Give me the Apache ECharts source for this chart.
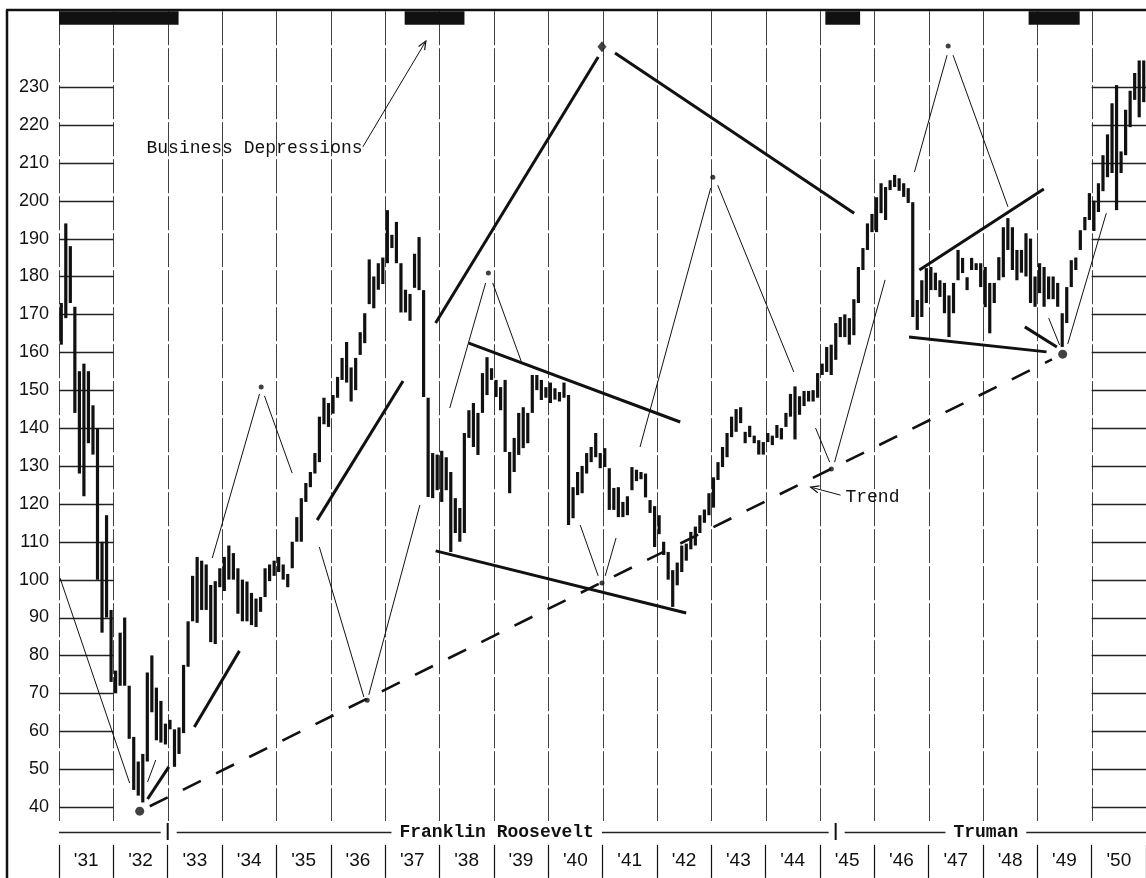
<!DOCTYPE html>
<html><head><meta charset="utf-8">
<script src="https://cdn.jsdelivr.net/npm/echarts@6/dist/echarts.min.js"></script>
<style>html,body{margin:0;padding:0;background:#fff;}#c{width:1146px;height:878px;}</style>
</head><body><div id="c"></div>
<script>
// ---------- DATA ----------
const years = [1931,1932,1933,1934,1935,1936,1937,1938,1939,1940,1941,1942,1943,1944,1945,1946,1947,1948,1949,1950];
const yearLabels = ["'31","'32","'33","'34","'35","'36","'37","'38","'39","'40","'41","'42","'43","'44","'45","'46","'47","'48","'49","'50"];
const yTicks = [40,50,60,70,80,90,100,110,120,130,140,150,160,170,180,190,200,210,220,230];

// monthly high / low, Jan..Dec per row, 1931..1950
const monthlyHigh = [
  173,194,188,172,155,157,155,146,140,110,117,92,
  76,86,90,72,58.5,52,54,75.5,80,71.5,68,62,
  63,60.5,61,77.5,89,101,106,105,104,98.6,99.6,103,
  106,109,107,103,100,99.5,96.5,95,95.4,103,104,105,
  106,104,101.5,110,116.5,121.5,125.5,128.4,133.4,143,148,146.6,
  148.7,153.5,158.5,162.7,156,158.5,165.3,170.3,184.5,180,183.5,185,
  197.5,191,194.4,183.5,176.5,175.4,186,190.4,176.4,148,133.4,133,
  134,132.3,128.4,121.5,118.9,138.7,144.7,146.6,144,154.5,158.7,155.8,
  152.7,150.8,152.7,133.7,137.4,144,145.5,144,154,154,152.7,150.8,
  152,150.5,149.5,152,148.7,124.4,128.4,130,133.4,135,138.7,133.4,
  134.7,129.4,124.2,124.4,120.5,122,129.7,129,128.4,128,121,119.4,
  117,110,107.3,102.5,104.5,109,109.5,112.6,114,117,118.5,122.8,
  127,131,135,138.7,143,145,145.5,139,140.6,138,136.8,136.3,
  138.7,138,140.8,140,144,149,151,148.4,149.8,149.8,150,154.5,
  157,161.4,162,167.7,169.3,170,169,174,182.5,187.5,194,196.5,
  200.9,204.6,203.6,205.4,206.8,205.9,204.6,203.3,199.6,173.8,179,182.2,
  182.5,181,179,178.3,175,178.3,187,184.9,179.8,184.9,183.5,183.5,
  182.5,178.3,178.3,185.1,193,195.4,193,187,187,191.4,190,180,
  183.5,182.5,180,180,178.3,170.3,177.2,184.3,185,192.2,195.7,202,
  200,204.6,212,217.5,225.7,230.5,213,224,229,233.7,237,237
];
const monthlyLow = [
  162,169,173,144,128,122,136,133,100,86,90,73,
  70,72,72,58,44.5,43,41.2,52,65,57.6,57,56.5,
  60.5,50.6,54,59.5,77,89,88.6,92,92,83.5,83,98,
  97,100,100,91,89,89,88,87.5,91.5,95.4,99.6,101,
  102,100,98,103,110,110,120.5,124.4,128,131,141,140.3,
  143.8,148,152.7,152,147,150,159.3,162.4,172.7,171.6,176.5,178,
  183.5,187.5,183.5,170.5,170.5,168.3,177,176.4,148.2,121.8,121.5,123.6,
  120.5,123.6,107.3,112.3,110,112.3,137.4,135,132.9,144,148.7,152.7,
  148.2,144.7,133.7,122.8,128.4,132.9,134.7,136,144,150,147.4,148,
  146.6,147.5,147,148,114.4,116.2,122.3,122.8,128,131,132.3,129.4,
  129.7,118.4,118.4,116.5,116.5,117,123.6,126,126.5,121.7,117.6,108.6,
  112,106.5,100,92.8,98.5,102,105,108,109,112.3,115,117,
  119,126.3,129.7,132.3,137.6,139,141.3,136,137.6,136,133,133,
  136.3,135.5,137.4,137,140.3,143,137,143.5,145.8,147,147,148,
  154,154.8,154,158,164,164,162,164.5,173,181.7,187,191.7,
  191.7,196.7,194.9,202.8,203.6,202.6,201,199.4,169.3,165.9,169.3,173,
  176.4,176.4,174.6,170.3,164,170.3,179,180.9,176.4,181.7,181.7,177.2,
  171.9,165,173,179,179.8,187,181.7,179,181,180,173,172,
  175.6,172,174,174,172,161.4,167.7,177.2,181.7,187,192.2,194.9,
  192,197,202.5,206.2,207.3,197.5,207.3,212,219.4,226.6,222,226
];

const depressionStart = [1931.0, 1937.36, 1945.10, 1948.84];
const depressionEnd   = [1933.2, 1938.46, 1945.74, 1949.78];

const presidentNames = ['', 'Franklin Roosevelt', 'Truman'];
const presidentStart = [1931, 1933.0, 1945.29];
const presidentEnd   = [1933.0, 1945.29, 1951];

// long-term trend (dashed)
const trendLine = [[1932.67, 40.2], [1949.27, 158.1]];
// pivot points
const pivotDots = [[1934.72,150.8],[1936.67,68.2],[1938.90,180.9],[1940.99,99.1],[1943.03,206.2],[1945.21,129.2],[1947.36,240.8]];
const majorLows = [[1932.485,38.9],[1949.467,159.5]];
const projectedTop = [[1940.99,240.6]];

// thin construction lines [t1,v1,t2,v2]
const thinLines = [
  [1931.02,100.4,1932.30,46.3],[1932.63,46.6,1932.78,52.4],
  [1933.82,105.7,1934.69,149.0],[1934.78,148.5,1935.29,128.1],
  [1935.79,108.6,1936.61,69.0],[1936.70,69.6,1937.64,119.7],
  [1938.19,145.3,1938.85,178.3],[1938.98,178.3,1939.51,157.4],
  [1940.59,114.4,1940.92,101.0],[1941.05,101.0,1941.25,111.0],
  [1941.69,135.0,1942.99,203.3],[1943.12,204.1,1944.52,154.8],
  [1944.92,140.0,1945.18,131.0],[1945.27,131.0,1946.20,179.1],
  [1946.74,207.6,1947.34,238.4],[1947.45,238.4,1948.46,198.4],
  [1949.21,169.0,1949.41,161.9],[1949.56,162.2,1950.27,196.7]
];
// heavy trend/channel lines [t1,v1,t2,v2]
const thickLines = [
  [1932.63,42.1,1933.02,50.6],[1933.49,61.1,1934.32,81.2],
  [1935.75,115.7,1937.33,152.4],[1937.93,167.7,1940.92,237.9],
  [1941.23,239.0,1945.63,196.7],[1937.93,107.6,1942.54,91.2],
  [1938.54,162.4,1942.43,141.6],[1946.83,181.7,1949.12,203.1],
  [1946.64,164.0,1949.17,160.1],[1948.77,166.7,1949.36,161.4]
];
// annotation arrows [t1,v1,t2(head),v2(head)] and labels
const arrowLines = [[1936.59,214.2,1937.75,242.1],[1945.38,122.3,1944.83,124.4]];
const labelTexts = ['Business Depressions', 'Trend'];
const labelAt = [[1932.61,213.9],[1945.47,121.8]];

// ---------- CHART ----------
const INK = '#111';
const MONO = '"Liberation Mono", "DejaVu Sans Mono", monospace';
const barData = monthlyHigh.map((h, i) => [years[0] + (i + 0.5) / 12, h, monthlyLow[i]]);
const snap = v => Math.round(v) + 0.5;

function segSeries(data, width, z) {
  return {
    type: 'custom', z: z, data: data,
    renderItem: (params, api) => {
      const a = api.coord([api.value(0), api.value(1)]);
      const b = api.coord([api.value(2), api.value(3)]);
      return { type: 'line', shape: { x1: a[0], y1: a[1], x2: b[0], y2: b[1] },
               style: { stroke: INK, lineWidth: width, lineCap: 'butt' } };
    }
  };
}

const chart = echarts.init(document.getElementById('c'));
chart.setOption({
  animation: false,
  backgroundColor: '#fff',
  grid: { left: 59, top: 11.2, width: 1090.6, height: 833.7 },
  xAxis: [
    { type: 'value', min: 1931, max: 1951, show: false },
    { type: 'category', data: yearLabels, position: 'bottom', boundaryGap: true,
      axisLine: { show: false },
      axisTick: { show: true, interval: 0, length: 33, lineStyle: { color: INK, width: 1.2 } },
      axisLabel: { interval: 0, fontSize: 19, color: INK, margin: 6, fontFamily: 'Liberation Sans' },
      splitLine: { show: false } }
  ],
  yAxis: {
    type: 'value', min: 30, max: 250, interval: 10,
    axisLine: { show: false }, axisTick: { show: false }, splitLine: { show: false },
    axisLabel: { margin: 10, fontSize: 18, color: INK, fontFamily: 'Liberation Sans',
                 formatter: v => (yTicks.indexOf(v) >= 0 ? String(v) : '') }
  },
  graphic: [
    { type: 'line', shape: { x1: 6, y1: 10, x2: 1146, y2: 10 }, style: { stroke: INK, lineWidth: 2.5 } },
    { type: 'line', shape: { x1: 7, y1: 10, x2: 7, y2: 878 }, style: { stroke: INK, lineWidth: 2.5 } }
  ],
  series: [
    // year grid lines
    { type: 'custom', z: 1, data: years.map(y => [y, 0]),
      renderItem: (p, api) => {
        const a = api.coord([api.value(0), 250]), b = api.coord([api.value(0), 36.3]);
        return { type: 'line', shape: { x1: snap(a[0]), y1: a[1], x2: snap(b[0]), y2: b[1] },
                 style: { stroke: '#404040', lineWidth: 1, lineDash: [34, 3] } };
      } },
    // value ticks in first and last columns
    { type: 'custom', z: 1, data: yTicks.map(v => [0, v]),
      renderItem: (p, api) => {
        const v = api.value(1);
        const a = api.coord([years[0], v]), b = api.coord([years[1], v]);
        const c = api.coord([years[years.length - 1], v]), d = api.coord([years[years.length - 1] + 1, v]);
        const st = { stroke: '#222', lineWidth: 1.3 };
        return { type: 'group', children: [
          { type: 'line', shape: { x1: a[0], y1: snap(a[1]), x2: b[0], y2: snap(b[1]) }, style: st },
          { type: 'line', shape: { x1: c[0], y1: snap(c[1]), x2: d[0], y2: snap(d[1]) }, style: st }
        ] };
      } },
    // business depression bars
    { type: 'custom', z: 3, data: depressionStart.map((s, i) => [s, depressionEnd[i]]),
      renderItem: (p, api) => {
        const a = api.coord([api.value(0), 250]), b = api.coord([api.value(1), 246.4]);
        return { type: 'rect', shape: { x: a[0], y: a[1], width: b[0] - a[0], height: b[1] - a[1] },
                 style: { fill: INK } };
      } },
    // presidential terms row
    { type: 'custom', z: 3, data: presidentStart.map((s, i) => [s, presidentEnd[i]]),
      renderItem: (p, api) => {
        const i = p.dataIndex;
        const a = api.coord([api.value(0), 33.4]), b = api.coord([api.value(1), 33.4]);
        const W = api.getWidth();
        const x1 = a[0] + (i === 0 ? 0 : 9), x2 = Math.min(b[0], W) - (i === presidentNames.length - 1 ? 0 : 7);
        const ch = [{ type: 'line', shape: { x1: x1, y1: snap(a[1]), x2: x2, y2: snap(a[1]) },
                      style: { stroke: '#222', lineWidth: 1.3 } }];
        if (i > 0) ch.push({ type: 'line', shape: { x1: a[0], y1: a[1] - 9, x2: a[0], y2: a[1] + 8 },
                             style: { stroke: INK, lineWidth: 2 } });
        if (presidentNames[i]) ch.push({ type: 'text', x: (a[0] + Math.min(b[0], W)) / 2 - 5, y: a[1],
          style: { text: presidentNames[i], fill: INK, font: 'bold 18px ' + MONO, align: 'center',
                   verticalAlign: 'middle', backgroundColor: '#fff', padding: [0, 8] } });
        return { type: 'group', children: ch };
      } },
    // monthly high-low bars
    { type: 'custom', z: 5, data: barData,
      renderItem: (p, api) => {
        const t = api.value(0);
        const a = api.coord([t, api.value(1)]), b = api.coord([t, api.value(2)]);
        return { type: 'rect', shape: { x: a[0] - 1.6, y: a[1], width: 3.2, height: Math.max(b[1] - a[1], 1.5) },
                 style: { fill: INK } };
      } },
    segSeries(thinLines, 1, 6),
    segSeries(thickLines, 3, 6),
    // trend
    { type: 'line', z: 6, data: trendLine, symbol: 'none',
      lineStyle: { color: INK, width: 2.6, type: [20, 17] } },
    // dots
    { type: 'scatter', z: 7, data: pivotDots, symbol: 'circle', symbolSize: 5, itemStyle: { color: INK } },
    { type: 'scatter', z: 7, data: majorLows, symbol: 'circle', symbolSize: 9, itemStyle: { color: INK } },
    { type: 'scatter', z: 7, data: projectedTop, symbol: 'diamond', symbolSize: [9, 11], itemStyle: { color: INK } },
    // arrows
    { type: 'custom', z: 7, data: arrowLines,
      renderItem: (p, api) => {
        const a = api.coord([api.value(0), api.value(1)]), b = api.coord([api.value(2), api.value(3)]);
        const ang = Math.atan2(a[1] - b[1], a[0] - b[0]);
        const L = 9, s = 0.4;
        const h1 = [b[0] + L * Math.cos(ang + s), b[1] + L * Math.sin(ang + s)];
        const h2 = [b[0] + L * Math.cos(ang - s), b[1] + L * Math.sin(ang - s)];
        const st = { stroke: INK, lineWidth: 1 };
        return { type: 'group', children: [
          { type: 'line', shape: { x1: a[0], y1: a[1], x2: b[0], y2: b[1] }, style: st },
          { type: 'polyline', shape: { points: [h1, b, h2] }, style: { stroke: INK, lineWidth: 1.2, fill: null } }
        ] };
      } },
    // labels
    { type: 'custom', z: 8, data: labelAt,
      renderItem: (p, api) => {
        const a = api.coord([api.value(0), api.value(1)]);
        return { type: 'text', x: a[0], y: a[1],
                 style: { text: labelTexts[p.dataIndex], fill: INK, font: '18px ' + MONO,
                          align: 'left', verticalAlign: 'middle' } };
      } }
  ]
});
</script>
</body></html>
